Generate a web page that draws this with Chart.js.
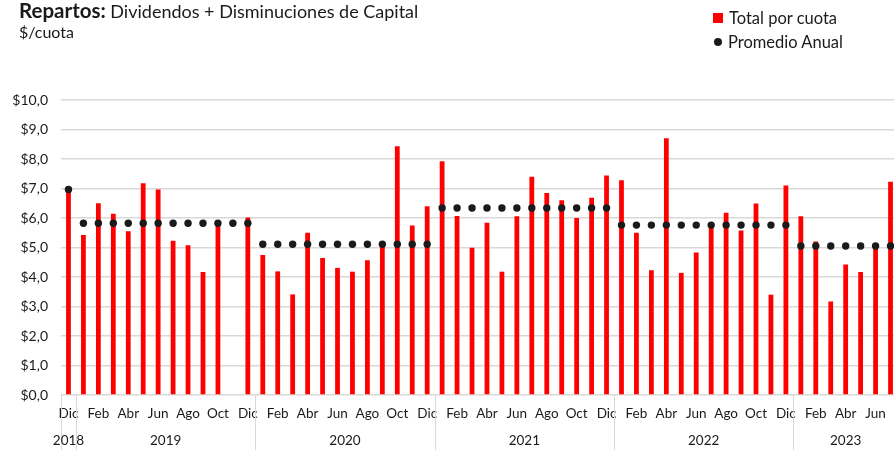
<!DOCTYPE html>
<html>
<head>
<meta charset="utf-8">
<script src="https://cdn.jsdelivr.net/npm/chart.js@4.4.0/dist/chart.umd.min.js"></script>
<style>
  html, body { margin: 0; padding: 0; background: #fff; width: 894px; height: 450px; overflow: hidden; }
  body { position: relative; font-family: Lato, "Noto Sans", sans-serif; color: #1a1a1a; }
  #chart { position: absolute; left: 0; top: 0; }
  #title { position: absolute; left: 19px; top: -2px; font-size: 18px; line-height: 24px; white-space: nowrap; }
  #title b { font-size: 20.5px; }
  #unit { position: absolute; left: 19px; top: 22px; font-size: 16px; }
  #legend { position: absolute; left: 713px; top: 6px; font-size: 16.5px; line-height: 24px; }
  #legend div { display: flex; align-items: center; }
  #legend span.sw { display: inline-block; margin-right: 6px; }
</style>
</head>
<body>
<canvas id="chart" width="902" height="450"></canvas>
<div id="title"><b>Repartos:</b> Dividendos + Disminuciones de Capital</div>
<div id="unit">$/cuota</div>
<div id="legend"></div>
<script>
// meses desde Dic 2018 hasta Jul 2023
const months = [
  "Dic",
  "Ene", "Feb", "Mar", "Abr", "May", "Jun", "Jul", "Ago", "Sep", "Oct", "Nov", "Dic",
  "Ene", "Feb", "Mar", "Abr", "May", "Jun", "Jul", "Ago", "Sep", "Oct", "Nov", "Dic",
  "Ene", "Feb", "Mar", "Abr", "May", "Jun", "Jul", "Ago", "Sep", "Oct", "Nov", "Dic",
  "Ene", "Feb", "Mar", "Abr", "May", "Jun", "Jul", "Ago", "Sep", "Oct", "Nov", "Dic",
  "Ene", "Feb", "Mar", "Abr", "May", "Jun", "Jul"
];
const years = [
  "2018",
  "2019", "2019", "2019", "2019", "2019", "2019", "2019", "2019", "2019", "2019", "2019", "2019",
  "2020", "2020", "2020", "2020", "2020", "2020", "2020", "2020", "2020", "2020", "2020", "2020",
  "2021", "2021", "2021", "2021", "2021", "2021", "2021", "2021", "2021", "2021", "2021", "2021",
  "2022", "2022", "2022", "2022", "2022", "2022", "2022", "2022", "2022", "2022", "2022", "2022",
  "2023", "2023", "2023", "2023", "2023", "2023", "2023"
];
const totalPorCuota = [
  6.97,
  5.42, 6.50, 6.14, 5.55, 7.18, 6.97, 5.23, 5.08, 4.17, 5.85, null, 6.02,
  4.75, 4.19, 3.41, 5.50, 4.64, 4.31, 4.18, 4.57, 5.10, 8.43, 5.75, 6.40,
  7.92, 6.07, 4.99, 5.84, 4.18, 6.06, 7.40, 6.85, 6.60, 6.00, 6.69, 7.44,
  7.28, 5.50, 4.23, 8.70, 4.14, 4.83, 5.70, 6.18, 5.58, 6.49, 3.40, 7.10,
  6.06, 5.20, 3.17, 4.42, 4.17, 4.97, 7.23
];
const promedioAnual = [
  6.97,
  5.82, 5.82, 5.82, 5.82, 5.82, 5.82, 5.82, 5.82, 5.82, 5.82, 5.82, 5.82,
  5.11, 5.11, 5.11, 5.11, 5.11, 5.11, 5.11, 5.11, 5.11, 5.11, 5.11, 5.11,
  6.34, 6.34, 6.34, 6.34, 6.34, 6.34, 6.34, 6.34, 6.34, 6.34, 6.34, 6.34,
  5.76, 5.76, 5.76, 5.76, 5.76, 5.76, 5.76, 5.76, 5.76, 5.76, 5.76, 5.76,
  5.05, 5.05, 5.05, 5.05, 5.05, 5.05, 5.05
];

const FONT = 'Lato, "Noto Sans", sans-serif';
const RED = "#ff0000";
const DOT = "#1a1a1a";
const GRID = "#d9d9d9";

// separadores y etiquetas de año bajo el eje
const yearAxis = {
  id: "yearAxis",
  afterDraw(chart) {
    const { ctx, chartArea } = chart;
    const x = chart.scales.x;
    const half = (x.getPixelForValue(1) - x.getPixelForValue(0)) / 2;
    ctx.save();
    ctx.strokeStyle = GRID;
    ctx.lineWidth = 1;
    ctx.fillStyle = "#1a1a1a";
    ctx.font = "13.5px " + FONT;
    ctx.textAlign = "center";
    ctx.textBaseline = "middle";
    let start = 0;
    for (let i = 1; i <= years.length; i++) {
      if (i === years.length || years[i] !== years[start]) {
        const left = Math.round(x.getPixelForValue(start) - half) + 0.5;
        ctx.beginPath();
        ctx.moveTo(left, chartArea.bottom);
        ctx.lineTo(left, chart.height);
        ctx.stroke();
        const mid = (x.getPixelForValue(start) + x.getPixelForValue(i - 1)) / 2;
        ctx.fillText(years[start], mid, chartArea.bottom + 46);
        start = i;
      }
    }
    ctx.restore();
  }
};

const chart = new Chart(document.getElementById("chart"), {
  data: {
    labels: months,
    datasets: [
      {
        type: "line",
        label: "Promedio Anual",
        data: promedioAnual,
        showLine: false,
        pointRadius: 3.7,
        pointBackgroundColor: DOT,
        pointBorderColor: DOT,
        pointBorderWidth: 0,
        order: 0
      },
      {
        type: "bar",
        label: "Total por cuota",
        data: totalPorCuota,
        backgroundColor: RED,
        barPercentage: 0.32,
        categoryPercentage: 1,
        order: 1
      }
    ]
  },
  plugins: [yearAxis],
  options: {
    responsive: false,
    animation: false,
    layout: { padding: { top: 100, left: 0, right: 0, bottom: 0 } },
    plugins: { legend: { display: false }, tooltip: { enabled: false } },
    scales: {
      x: {
        grid: { display: false, drawTicks: false },
        border: { display: false },
        ticks: {
          autoSkip: false,
          maxRotation: 0,
          minRotation: 0,
          padding: 11,
          color: "#1a1a1a",
          font: { family: FONT, size: 13.5 },
          callback: (v, i) => (i % 2 === 0 ? months[i] : "")
        },
        afterFit: s => { s.height = 55; }
      },
      y: {
        min: 0,
        max: 10,
        ticks: {
          stepSize: 1,
          padding: 13,
          color: "#1a1a1a",
          font: { family: FONT, size: 14 },
          callback: v => "$" + v.toFixed(1).replace(".", ",")
        },
        grid: { color: GRID, drawTicks: false, lineWidth: 1.5 },
        border: { display: false },
        afterFit: s => { s.width = 61; }
      }
    }
  }
});

// leyenda a mano, arriba a la derecha
const legend = document.getElementById("legend");
legend.innerHTML = `
  <div><span class="sw" style="width:10px;height:10px;background:${RED}"></span>Total por cuota</div>
  <div><span class="sw" style="width:8px;height:8px;border-radius:50%;background:${DOT};margin-left:1px"></span>Promedio Anual</div>
`;
</script>
</body>
</html>
